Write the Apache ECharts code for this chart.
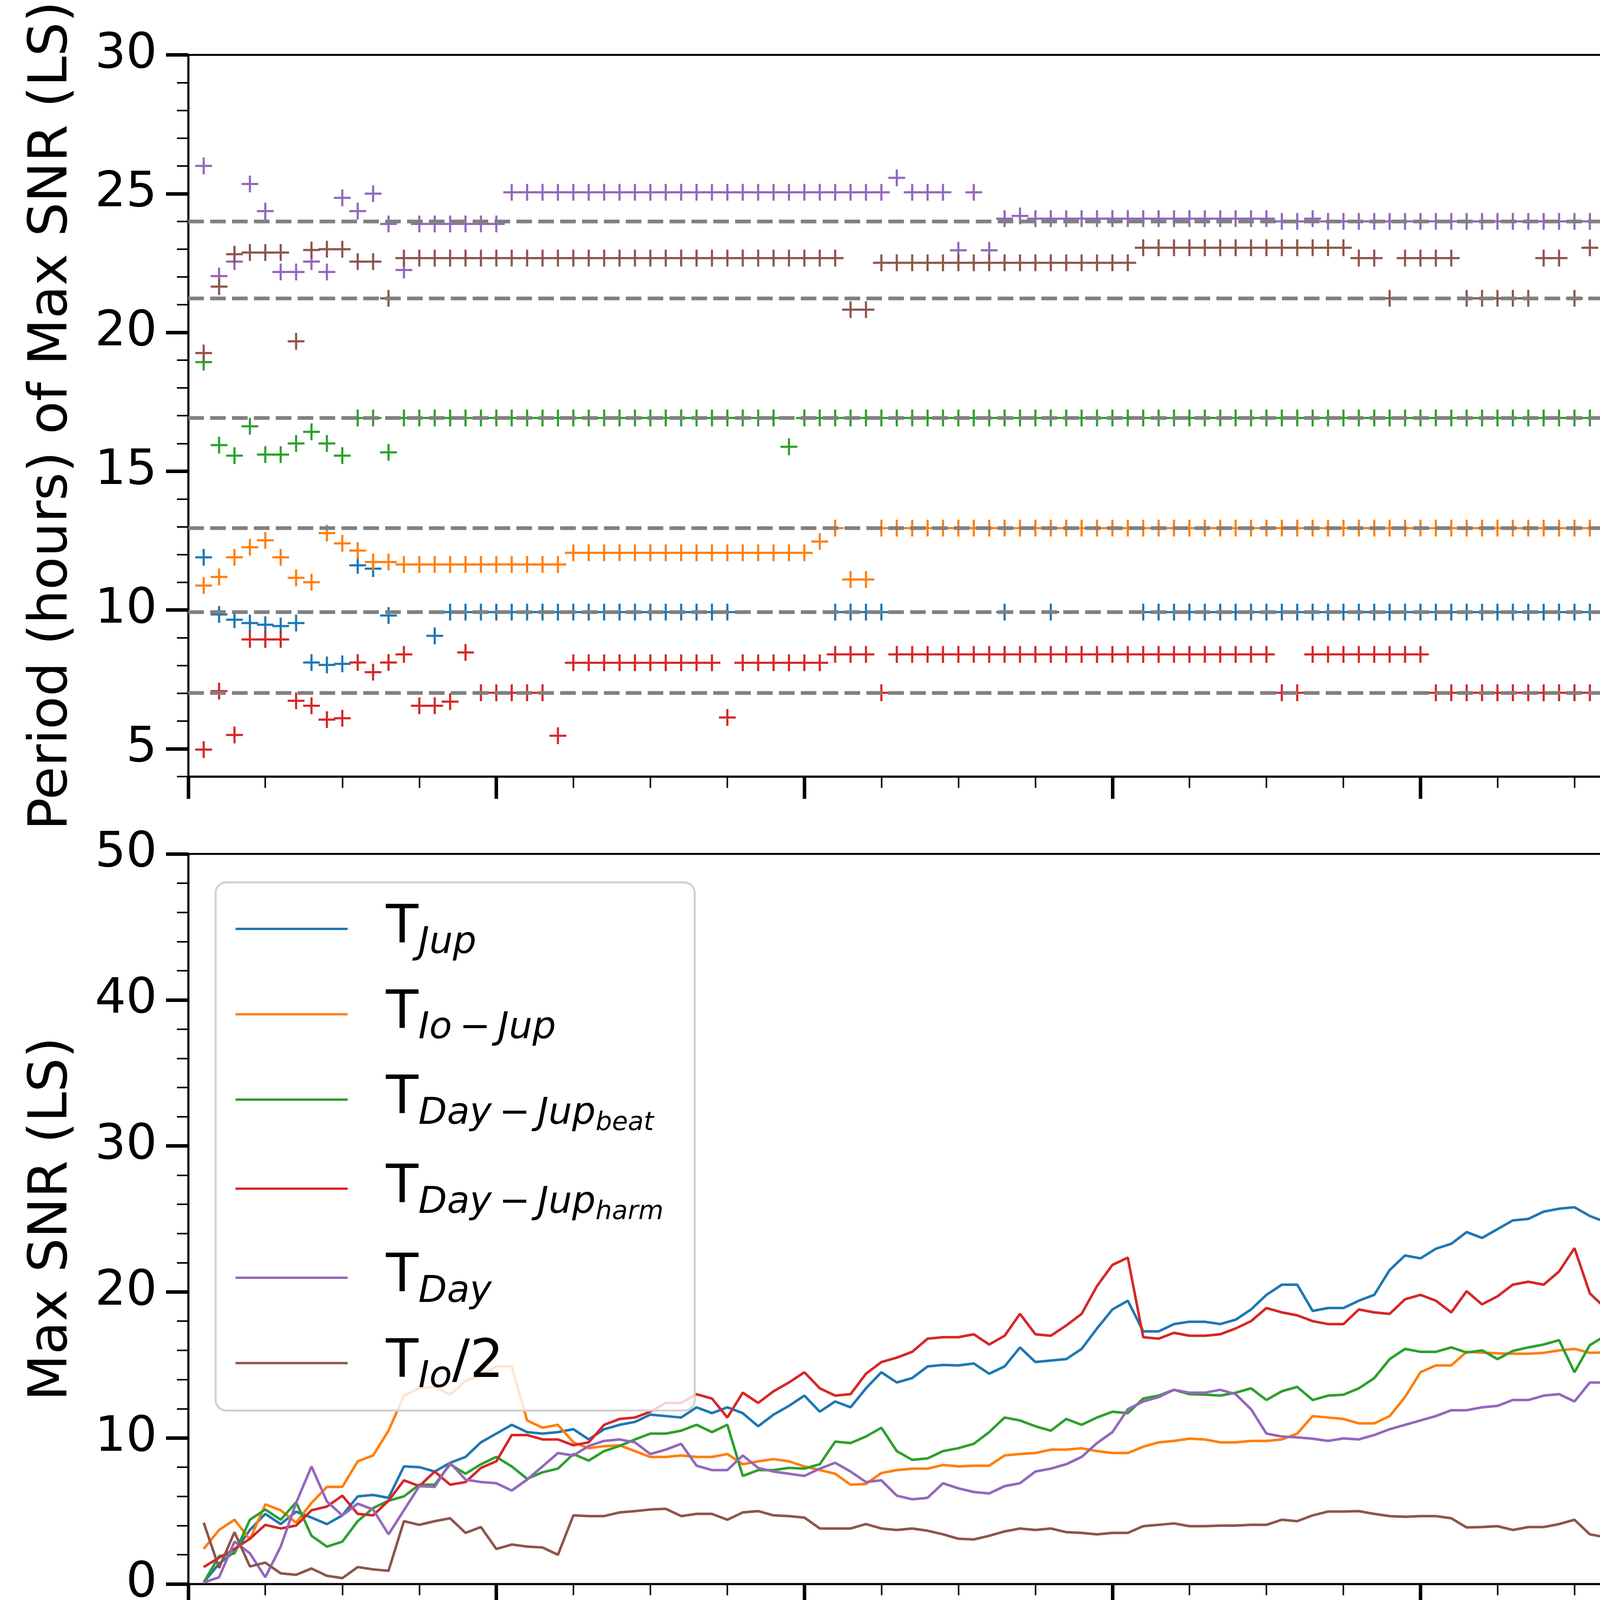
<!DOCTYPE html>
<html><head><meta charset="utf-8">
<script src="https://cdn.jsdelivr.net/npm/echarts@6/dist/echarts.min.js"></script>
<style>html,body{margin:0;padding:0;background:#fff}#c{width:7500px;height:4500px}</style>
</head><body><div id="c"></div>
<script>
// Reference periods (hours) – dashed lines
const TD = 24.0, TI = 21.23, TB = 16.92, TIJ = 12.95, TJ = 9.925, TH = 7.02;
const refPeriods = [TD, TI, TB, TIJ, TJ, TH];

const xTickLabels = [0, 20, 40, 60, 80, 100, 120, 140, 160];
const periodTickLabels = [5, 10, 15, 20, 25, 30];

// ---- Top panel: period of max SNR (sample 1..170) ----
const pJup = [11.9, 9.84, 9.65, 9.53, 9.47, 9.42, 9.53, 8.11, 8.02, 8.06,
 11.61, 11.49, 9.8, null, null, 9.07, TJ, TJ, TJ, TJ,
 TJ, TJ, TJ, TJ, TJ, TJ, TJ, TJ, TJ, TJ,
 TJ, TJ, TJ, TJ, TJ, null, null, null, null, null,
 null, TJ, TJ, TJ, TJ, null, null, null, null, null,
 null, null, TJ, null, null, TJ, null, null, null, null,
 null, TJ, TJ, TJ, TJ, TJ, TJ, TJ, TJ, TJ,
 TJ, TJ, TJ, TJ, TJ, TJ, TJ, TJ, TJ, TJ,
 TJ, TJ, TJ, TJ, TJ, TJ, TJ, TJ, TJ, TJ,
 TJ, TJ, TJ, TJ, TJ, TJ, TJ, TJ, TJ, TJ,
 TJ, TJ, TJ, TJ, TJ, TJ, TJ, TJ, TJ, TJ,
 TJ, TJ, TJ, TJ, TJ, TJ, TJ, TJ, TJ, TJ,
 TJ, TJ, TJ, TJ, TJ, TJ, TJ, TJ, TJ, TJ,
 TJ, TJ, TJ, TJ, TJ, TJ, TJ, TJ, TJ, TJ,
 TJ, TJ, TJ, TJ, TJ, TJ, TJ, TJ, TJ, TJ,
 TJ, TJ, TJ, TJ, TJ, TJ, TJ, TJ, TJ, TJ,
 TJ, TJ, TJ, TJ, TJ, TJ, TJ, TJ, TJ, TJ];

const pIoJup = [10.88, 11.19, 11.9, 12.26, 12.51, 11.9, 11.16, 11.0, 12.77, 12.4,
 12.14, 11.73, 11.73, 11.64, 11.64, 11.64, 11.64, 11.64, 11.64, 11.64,
 11.64, 11.64, 11.64, 11.64, 12.06, 12.06, 12.06, 12.06, 12.06, 12.06,
 12.06, 12.06, 12.06, 12.06, 12.06, 12.06, 12.06, 12.06, 12.06, 12.06,
 12.47, TIJ, 11.1, 11.1, TIJ, TIJ, TIJ, TIJ, TIJ, TIJ,
 TIJ, TIJ, TIJ, TIJ, TIJ, TIJ, TIJ, TIJ, TIJ, TIJ,
 TIJ, TIJ, TIJ, TIJ, TIJ, TIJ, TIJ, TIJ, TIJ, TIJ,
 TIJ, TIJ, TIJ, TIJ, TIJ, TIJ, TIJ, TIJ, TIJ, TIJ,
 TIJ, TIJ, TIJ, TIJ, TIJ, TIJ, TIJ, TIJ, TIJ, TIJ,
 TIJ, TIJ, TIJ, TIJ, TIJ, TIJ, TIJ, TIJ, TIJ, TIJ,
 TIJ, TIJ, TIJ, TIJ, TIJ, TIJ, TIJ, TIJ, TIJ, TIJ,
 TIJ, TIJ, TIJ, TIJ, TIJ, TIJ, TIJ, TIJ, TIJ, TIJ,
 TIJ, TIJ, TIJ, TIJ, TIJ, TIJ, TIJ, TIJ, TIJ, TIJ,
 TIJ, TIJ, TIJ, TIJ, TIJ, TIJ, TIJ, TIJ, TIJ, TIJ,
 TIJ, TIJ, TIJ, TIJ, TIJ, TIJ, TIJ, TIJ, TIJ, TIJ,
 TIJ, TIJ, TIJ, TIJ, TIJ, TIJ, TIJ, TIJ, TIJ, TIJ,
 TIJ, TIJ, TIJ, TIJ, TIJ, TIJ, TIJ, TIJ, TIJ, TIJ];

const pBeat = [18.93, 15.94, 15.56, 16.62, 15.6, 15.6, 16.0, 16.42, 16.0, 15.56,
 TB, TB, 15.68, TB, TB, TB, TB, TB, TB, TB,
 TB, TB, TB, TB, TB, TB, TB, TB, TB, TB,
 TB, TB, TB, TB, TB, TB, TB, TB, 15.88, TB,
 TB, TB, TB, TB, TB, TB, TB, TB, TB, TB,
 TB, TB, TB, TB, TB, TB, TB, TB, TB, TB,
 TB, TB, TB, TB, TB, TB, TB, TB, TB, TB,
 TB, TB, TB, TB, TB, TB, TB, TB, TB, TB,
 TB, TB, TB, TB, TB, TB, TB, TB, TB, TB,
 TB, TB, TB, TB, TB, TB, TB, TB, TB, TB,
 TB, TB, TB, TB, TB, TB, TB, TB, TB, TB,
 TB, TB, TB, TB, TB, TB, TB, TB, TB, TB,
 TB, TB, TB, TB, TB, TB, TB, TB, TB, TB,
 TB, TB, TB, TB, TB, TB, TB, TB, TB, TB,
 TB, TB, TB, TB, TB, TB, TB, TB, TB, TB,
 TB, TB, TB, TB, TB, TB, TB, TB, TB, TB,
 TB, TB, TB, TB, TB, TB, TB, TB, TB, TB];

const pHarm = [4.97, 7.08, 5.5, 8.94, 8.94, 8.94, 6.73, 6.55, 6.05, 6.1,
 8.11, 7.76, 8.11, 8.4, 6.55, 6.55, 6.7, 8.47, TH, TH,
 TH, TH, TH, 5.47, 8.1, 8.1, 8.1, 8.1, 8.1, 8.1,
 8.1, 8.1, 8.1, 8.1, 6.13, 8.1, 8.1, 8.1, 8.1, 8.1,
 8.1, 8.4, 8.4, 8.4, TH, 8.4, 8.4, 8.4, 8.4, 8.4,
 8.4, 8.4, 8.4, 8.4, 8.4, 8.4, 8.4, 8.4, 8.4, 8.4,
 8.4, 8.4, 8.4, 8.4, 8.4, 8.4, 8.4, 8.4, 8.4, 8.4,
 TH, TH, 8.4, 8.4, 8.4, 8.4, 8.4, 8.4, 8.4, 8.4,
 TH, TH, TH, TH, TH, TH, TH, TH, TH, TH,
 TH, TH, TH, TH, TH, TH, TH, TH, TH, TH,
 TH, TH, TH, TH, TH, TH, TH, TH, TH, TH,
 TH, TH, TH, TH, TH, TH, TH, TH, TH, TH,
 TH, TH, TH, TH, TH, TH, TH, TH, 6.1, TH,
 TH, TH, TH, TH, TH, TH, TH, TH, TH, TH,
 TH, TH, TH, TH, TH, TH, TH, TH, TH, TH,
 TH, TH, TH, TH, TH, TH, TH, TH, TH, TH,
 TH, TH, TH, TH, TH, TH, TH, TH, TH, TH];

const pDay = [26.0, 22.03, 22.55, 25.35, 24.37, 22.18, 22.18, 22.55, 22.18, 24.85,
 24.37, 25.0, 23.91, 22.25, 23.91, 23.91, 23.91, 23.91, 23.91, 23.91,
 25.05, 25.05, 25.05, 25.05, 25.05, 25.05, 25.05, 25.05, 25.05, 25.05,
 25.05, 25.05, 25.05, 25.05, 25.05, 25.05, 25.05, 25.05, 25.05, 25.05,
 25.05, 25.05, 25.05, 25.05, 25.05, 25.57, 25.05, 25.05, 25.05, 22.96,
 25.05, 22.96, 24.1, 24.2, 24.1, 24.1, 24.1, 24.1, 24.1, 24.1,
 24.1, 24.1, 24.1, 24.1, 24.1, 24.1, 24.1, 24.1, 24.1, 24.1,
 TD, TD, 24.1, TD, TD, TD, TD, TD, TD, TD,
 TD, TD, TD, TD, TD, TD, TD, TD, TD, TD,
 TD, TD, TD, TD, TD, TD, TD, TD, TD, TD,
 TD, TD, TD, TD, TD, TD, TD, TD, TD, TD,
 TD, TD, TD, TD, TD, TD, TD, TD, TD, TD,
 24.62, 25.17, TD, TD, TD, 24.62, TD, TD, TD, TD,
 TD, TD, TD, TD, TD, TD, TD, TD, TD, TD,
 TD, TD, TD, TD, TD, TD, TD, TD, TD, TD,
 TD, TD, TD, TD, TD, TD, TD, TD, TD, TD,
 TD, TD, TD, TD, TD, TD, TD, TD, TD, TD];

const pIo2 = [19.26, 21.65, 22.82, 22.88, 22.88, 22.88, 19.68, 22.97, 23.0, 23.0,
 22.55, 22.55, TI, 22.68, 22.68, 22.68, 22.68, 22.68, 22.68, 22.68,
 22.68, 22.68, 22.68, 22.68, 22.68, 22.68, 22.68, 22.68, 22.68, 22.68,
 22.68, 22.68, 22.68, 22.68, 22.68, 22.68, 22.68, 22.68, 22.68, 22.68,
 22.68, 22.68, 20.82, 20.82, 22.51, 22.51, 22.51, 22.51, 22.51, 22.51,
 22.51, 22.51, 22.51, 22.51, 22.51, 22.51, 22.51, 22.51, 22.51, 22.51,
 22.51, 23.05, 23.05, 23.05, 23.05, 23.05, 23.05, 23.05, 23.05, 23.05,
 23.05, 23.05, 23.05, 23.05, 23.05, 22.68, 22.68, TI, 22.68, 22.68,
 22.68, 22.68, TI, TI, TI, TI, TI, 22.68, 22.68, TI,
 23.05, TI, TI, TI, TI, TI, TI, TI, TI, TI,
 TI, TI, 23.05, 23.05, 23.05, 23.05, 23.05, 23.05, 23.05, TI,
 TI, TI, TI, TI, TI, TI, TI, TI, TI, TI,
 TI, TI, TI, TI, TI, TI, TI, TI, TI, TI,
 TI, TI, TI, TI, TI, TI, TI, TI, TI, TI,
 TI, TI, TI, TI, TI, TI, TI, TI, TI, TI,
 TI, TI, TI, TI, TI, TI, TI, TI, TI, TI,
 TI, TI, TI, TI, TI, TI, TI, TI, TI, TI];

// ---- Bottom panel: Max SNR (sample 1..170) ----
const sJup = [0.1, 1.4, 2.2, 3.7, 4.8, 4.1, 4.95, 4.55, 4.1, 4.7,
 6.0, 6.1, 5.9, 8.05, 8.0, 7.7, 8.3, 8.7, 9.7, 10.3,
 10.9, 10.4, 10.3, 10.4, 10.6, 9.9, 10.6, 10.9, 11.1, 11.6,
 11.5, 11.4, 12.1, 11.7, 12.1, 11.7, 10.8, 11.6, 12.2, 12.9,
 11.8, 12.5, 12.1, 13.4, 14.5, 13.8, 14.1, 14.9, 15.0, 14.97,
 15.1, 14.4, 14.9, 16.2, 15.2, 15.3, 15.4, 16.1, 17.5, 18.8,
 19.4, 17.3, 17.3, 17.8, 17.96, 17.96, 17.8, 18.1, 18.8, 19.8,
 20.5, 20.5, 18.7, 18.9, 18.9, 19.4, 19.8, 21.5, 22.5, 22.3,
 22.96, 23.3, 24.1, 23.7, 24.3, 24.9, 25.0, 25.5, 25.7, 25.8,
 25.2, 24.8, 26.08, 26.2, 26.08, 27.2, 28.0, 28.7, 28.9, 29.4,
 28.7, 29.6, 28.3, 28.8, 27.7, 27.5, 28.7, 28.7, 28.3, 28.9,
 28.9, 28.9, 28.8, 28.7, 28.7, 29.9, 29.7, 30.5, 29.0, 30.6,
 30.3, 30.2, 32.1, 31.7, 32.4, 32.9, 33.0, 33.0, 30.3, 32.2,
 33.7, 34.6, 34.6, 34.7, 34.7, 34.9, 34.7, 34.5, 34.5, 35.5,
 33.7, 33.6, 35.1, 35.8, 35.9, 36.8, 36.4, 37.5, 38.0, 39.5,
 40.9, 40.8, 40.8, 40.4, 40.9, 40.95, 41.25, 41.4, 41.6, 42.0,
 41.9, 41.9, 42.1, 42.2, 43.4, 44.0, 45.6, 46.9, 48.1, 47.3];

const sIoJup = [2.4, 3.7, 4.4, 3.05, 5.45, 5.05, 4.2, 5.55, 6.65, 6.65,
 8.4, 8.8, 10.5, 12.9, 13.4, 13.5, 12.97, 13.9, 14.3, 14.9,
 14.9, 11.2, 10.7, 10.9, 9.7, 9.3, 9.44, 9.5, 9.1, 8.7,
 8.7, 8.8, 8.7, 8.7, 8.9, 8.2, 8.4, 8.55, 8.4, 8.05,
 7.8, 7.55, 6.8, 6.85, 7.6, 7.8, 7.9, 7.9, 8.15, 8.05,
 8.1, 8.1, 8.8, 8.9, 8.97, 9.2, 9.2, 9.3, 9.1, 8.97,
 8.97, 9.4, 9.7, 9.8, 9.95, 9.9, 9.7, 9.7, 9.8, 9.8,
 9.9, 10.3, 11.5, 11.4, 11.3, 11.0, 11.0, 11.5, 12.8, 14.5,
 14.97, 14.97, 15.9, 15.85, 15.8, 15.77, 15.77, 15.83, 16.0, 16.1,
 15.83, 15.86, 16.5, 16.5, 16.46, 17.6, 18.4, 18.7, 18.9, 19.1,
 19.0, 19.7, 20.9, 20.7, 20.75, 20.75, 20.7, 20.5, 22.0, 23.4,
 23.25, 23.25, 23.35, 21.9, 22.0, 22.0, 22.1, 22.25, 22.2, 22.4,
 22.45, 22.6, 23.85, 24.45, 24.2, 23.9, 24.3, 24.3, 25.2, 25.6,
 26.1, 26.2, 26.2, 26.3, 26.4, 26.5, 28.1, 27.8, 28.0, 27.97,
 28.07, 28.3, 28.5, 28.7, 28.9, 28.7, 28.7, 28.8, 28.4, 28.5,
 28.6, 28.7, 28.3, 28.2, 28.1, 28.3, 28.2, 27.7, 27.7, 27.97,
 28.1, 28.4, 28.5, 28.3, 28.5, 28.6, 28.5, 30.0, 30.3, 30.5];

const sBeat = [0.1, 1.9, 2.1, 4.4, 5.1, 4.4, 5.6, 3.3, 2.56, 2.9,
 4.3, 5.2, 5.7, 6.0, 6.8, 6.8, 8.2, 7.55, 8.2, 8.7,
 8.05, 7.2, 7.65, 7.9, 8.9, 8.45, 9.1, 9.45, 9.9, 10.3,
 10.3, 10.5, 10.9, 10.4, 10.9, 7.4, 7.8, 7.8, 7.95, 7.9,
 8.2, 9.75, 9.65, 10.1, 10.7, 9.1, 8.5, 8.6, 9.1, 9.3,
 9.6, 10.4, 11.4, 11.2, 10.8, 10.5, 11.3, 10.9, 11.4, 11.8,
 11.7, 12.7, 12.9, 13.3, 13.0, 12.97, 12.9, 13.1, 13.4, 12.6,
 13.2, 13.5, 12.6, 12.9, 12.96, 13.4, 14.1, 15.4, 16.1, 15.9,
 15.9, 16.2, 15.85, 16.0, 15.4, 15.96, 16.2, 16.4, 16.7, 14.5,
 16.36, 17.0, 19.3, 19.6, 19.8, 20.1, 20.5, 21.8, 22.25, 22.3,
 22.1, 21.4, 20.5, 20.9, 19.8, 20.1, 21.1, 20.9, 20.5, 20.7,
 21.0, 21.0, 21.0, 20.6, 20.7, 20.9, 20.6, 20.9, 20.9, 20.7,
 22.95, 23.2, 24.85, 23.75, 24.25, 24.1, 21.0, 20.95, 18.96, 18.8,
 19.8, 20.2, 20.2, 20.1, 20.1, 20.4, 19.96, 20.06, 19.96, 20.36,
 18.7, 18.76, 20.3, 20.6, 20.5, 21.0, 21.5, 21.9, 21.7, 22.9,
 23.75, 23.85, 24.15, 24.35, 24.3, 24.45, 24.4, 24.15, 24.15, 23.9,
 24.0, 24.05, 24.05, 24.45, 25.0, 25.4, 26.8, 25.0, 26.0, 25.2];

const sHarm = [1.16, 1.8, 2.4, 3.1, 4.05, 3.8, 4.0, 5.05, 5.3, 6.05,
 4.8, 4.7, 5.7, 7.1, 6.7, 7.7, 6.8, 6.98, 7.95, 8.4,
 10.2, 10.2, 9.9, 9.9, 9.5, 9.7, 10.9, 11.3, 11.4, 11.8,
 12.4, 12.4, 13.0, 12.7, 11.4, 13.1, 12.4, 13.2, 13.8, 14.5,
 13.4, 12.9, 13.0, 14.4, 15.2, 15.5, 15.9, 16.8, 16.9, 16.9,
 17.1, 16.4, 17.0, 18.5, 17.1, 17.0, 17.7, 18.5, 20.4, 21.85,
 22.35, 16.9, 16.8, 17.2, 17.0, 17.0, 17.1, 17.5, 18.0, 18.9,
 18.6, 18.4, 18.0, 17.8, 17.8, 18.8, 18.6, 18.5, 19.5, 19.8,
 19.4, 18.6, 20.05, 19.15, 19.7, 20.5, 20.7, 20.5, 21.4, 23.0,
 19.9, 18.9, 17.8, 17.7, 17.8, 18.5, 19.2, 19.1, 19.1, 19.6,
 18.7, 18.5, 18.8, 18.7, 17.96, 17.9, 19.0, 19.1, 19.2, 19.8,
 19.8, 19.8, 19.8, 19.8, 19.8, 20.0, 20.3, 21.1, 18.9, 20.0,
 18.4, 18.1, 19.4, 19.4, 19.45, 19.9, 21.0, 20.9, 19.5, 19.1,
 20.2, 20.95, 20.95, 20.99, 20.95, 20.8, 20.7, 20.9, 20.8, 21.5,
 19.4, 19.5, 20.6, 21.1, 21.3, 22.3, 21.95, 22.0, 21.9, 22.9,
 24.2, 24.3, 23.9, 24.1, 24.7, 24.6, 24.6, 24.5, 24.7, 24.8,
 24.45, 24.3, 24.75, 24.7, 25.6, 25.4, 26.0, 25.7, 26.8, 27.2];

const sDay = [0.1, 0.46, 2.9, 2.1, 0.46, 2.56, 5.55, 8.05, 5.65, 4.7,
 5.5, 5.1, 3.4, 5.05, 6.7, 6.65, 8.3, 7.15, 6.98, 6.9,
 6.4, 7.15, 8.05, 8.97, 8.8, 9.45, 9.8, 9.9, 9.7, 8.9,
 9.2, 9.6, 8.1, 7.8, 7.8, 8.8, 7.95, 7.7, 7.55, 7.4,
 7.9, 8.3, 7.7, 6.98, 7.1, 6.05, 5.8, 5.9, 6.9, 6.55,
 6.3, 6.2, 6.7, 6.9, 7.7, 7.9, 8.2, 8.7, 9.65, 10.4,
 11.97, 12.5, 12.8, 13.3, 13.1, 13.1, 13.3, 13.0, 11.97, 10.3,
 10.1, 10.04, 9.95, 9.8, 9.97, 9.9, 10.2, 10.6, 10.9, 11.2,
 11.5, 11.9, 11.9, 12.1, 12.2, 12.6, 12.6, 12.9, 13.0, 12.5,
 13.8, 13.8, 15.2, 16.0, 16.4, 16.5, 17.9, 17.9, 18.0, 18.5,
 16.9, 16.7, 17.2, 16.96, 16.8, 17.1, 17.5, 17.76, 18.2, 18.1,
 18.0, 18.0, 18.0, 17.7, 17.2, 16.6, 15.9, 15.3, 14.9, 14.5,
 14.5, 14.5, 14.9, 14.4, 14.1, 14.2, 14.3, 14.2, 14.6, 15.8,
 15.9, 16.1, 16.1, 16.5, 16.5, 16.5, 16.5, 16.5, 16.4, 16.5,
 16.96, 17.5, 17.6, 17.7, 17.9, 17.8, 18.0, 18.2, 18.5, 18.6,
 19.1, 19.6, 19.7, 19.9, 19.8, 19.9, 20.0, 20.2, 19.96, 20.1,
 20.5, 20.6, 19.1, 18.7, 18.5, 19.8, 19.9, 20.0, 21.5, 22.3];

const sIo2 = [4.2, 1.1, 3.55, 1.2, 1.46, 0.73, 0.63, 1.06, 0.56, 0.4,
 1.16, 1.0, 0.9, 4.3, 4.05, 4.3, 4.5, 3.5, 3.9, 2.4,
 2.7, 2.56, 2.5, 2.0, 4.7, 4.65, 4.65, 4.9, 4.99, 5.1,
 5.15, 4.65, 4.8, 4.8, 4.4, 4.9, 4.99, 4.7, 4.65, 4.55,
 3.8, 3.8, 3.8, 4.1, 3.8, 3.7, 3.8, 3.65, 3.4, 3.1,
 3.05, 3.3, 3.6, 3.8, 3.7, 3.8, 3.55, 3.5, 3.4, 3.5,
 3.5, 3.96, 4.05, 4.15, 3.96, 3.96, 4.0, 4.0, 4.05, 4.05,
 4.4, 4.3, 4.7, 4.96, 4.96, 4.99, 4.8, 4.65, 4.6, 4.65,
 4.65, 4.5, 3.87, 3.9, 3.96, 3.7, 3.9, 3.9, 4.1, 4.4,
 3.4, 3.2, 3.05, 2.9, 3.05, 3.4, 3.3, 3.3, 3.55, 3.7,
 3.9, 3.7, 4.8, 4.6, 4.65, 4.65, 4.7, 4.7, 3.7, 3.65,
 3.5, 3.5, 3.45, 3.9, 4.2, 4.3, 4.4, 4.2, 4.0, 4.1,
 3.8, 3.65, 4.0, 3.4, 3.4, 3.35, 3.4, 3.3, 4.2, 4.3,
 4.2, 4.4, 4.4, 4.2, 4.2, 4.3, 4.8, 4.8, 4.75, 4.75,
 5.7, 5.5, 5.55, 5.6, 5.4, 5.5, 5.5, 5.6, 5.7, 5.55,
 5.55, 5.65, 5.65, 5.55, 5.55, 5.5, 5.55, 5.7, 5.7, 5.85,
 5.95, 5.95, 5.85, 5.85, 5.9, 6.0, 5.85, 5.2, 5.2, 5.25];

const seriesNames = ['T_Jup', 'T_Io-Jup', 'T_Day-Jup_beat', 'T_Day-Jup_harm', 'T_Day', 'T_Io/2'];
const SP = '\u2009';
const legendLabels = {
  'T_Jup': '{gap| }{t|T}{s|Jup}',
  'T_Io-Jup': '{gap| }{t|T}{s|Io' + SP + '−' + SP + 'Jup}',
  'T_Day-Jup_beat': '{gap| }{t|T}{s|Day' + SP + '−' + SP + 'Jup}{ss|beat}',
  'T_Day-Jup_harm': '{gap| }{t|T}{s|Day' + SP + '−' + SP + 'Jup}{ss|harm}',
  'T_Day': '{gap| }{t|T}{s|Day}',
  'T_Io/2': '{gap| }{t|T}{s|Io}{t|/2}'
};
const colors = ['#1f77b4', '#ff7f0e', '#2ca02c', '#d62728', '#9467bd', '#8c564b'];
const periodSeries = [pJup, pIoJup, pBeat, pHarm, pDay, pIo2];
const snrSeries = [sJup, sIoJup, sBeat, sHarm, sDay, sIo2];

const FONT = 'DejaVu Sans';
function pairs(arr) { return arr.map((v, i) => [i + 1, v]).filter(d => d[1] !== null); }

const majorTick = { show: true, length: 57, lineStyle: { color: '#000', width: 9 } };
const minorTick = { show: true, length: 29, lineStyle: { color: '#000', width: 4 } };
const lbl = { show: true, color: '#000', fontFamily: FONT, fontSize: 125 };
const axLine = { show: true, onZero: false, lineStyle: { color: '#000', width: 5 } };
const noLine = { show: false, onZero: false };

function makeX(gridIndex, labels) {
  return [
    { type: 'value', gridIndex, position: 'bottom', min: 0, max: 170, interval: 20,
      axisLine: axLine, axisTick: Object.assign({}, majorTick, { customValues: xTickLabels }),
      axisLabel: labels ? Object.assign({}, lbl, { margin: 65, customValues: xTickLabels }) : { show: false },
      splitLine: { show: false },
      name: labels ? 'Number of sample in LS' : '', nameLocation: 'middle', nameGap: 237,
      nameTextStyle: { color: '#000', fontFamily: FONT, fontSize: 138 } },
    { type: 'value', gridIndex, position: 'bottom', min: 0, max: 170, interval: 5,
      axisLine: noLine, axisTick: minorTick, axisLabel: { show: false }, splitLine: { show: false } }
  ];
}
function makeY(gridIndex, pos, min, max, majorInt, minorInt, name, custom) {
  const major = { type: 'value', gridIndex, position: pos, min, max,
    axisLine: axLine, splitLine: { show: false },
    axisTick: Object.assign({}, majorTick),
    axisLabel: Object.assign({}, lbl, { margin: 80 }) };
  if (custom) { major.axisTick.customValues = custom; major.axisLabel.customValues = custom; }
  else { major.interval = majorInt; }
  if (name) {
    major.name = name; major.nameLocation = 'middle'; major.nameGap = 279;
    major.nameTextStyle = { color: '#000', fontFamily: FONT, fontSize: 138 };
  }
  const minor = { type: 'value', gridIndex, position: pos, min, max, interval: minorInt,
    axisLine: noLine, axisTick: minorTick, axisLabel: { show: false }, splitLine: { show: false } };
  return [major, minor];
}

const plusPath = 'path://M-2.75,-21.5L2.75,-21.5L2.75,-2.75L21.5,-2.75L21.5,2.75L2.75,2.75L2.75,21.5L-2.75,21.5L-2.75,2.75L-21.5,2.75L-21.5,-2.75L-2.75,-2.75Z';

const series = [];
periodSeries.forEach((arr, k) => {
  const s = { type: 'scatter', name: 'p' + k, xAxisIndex: 0, yAxisIndex: 0, data: pairs(arr),
    symbol: plusPath, symbolSize: 43, itemStyle: { color: colors[k], opacity: 1 }, z: 2, silent: true };
  if (k === periodSeries.length - 1) {
    s.markLine = { silent: true, symbol: ['none', 'none'], label: { show: false }, animation: false,
      lineStyle: { color: '#808080', width: 9.5, type: [40, 16], opacity: 1 },
      emphasis: { disabled: true },
      data: refPeriods.map(v => ({ yAxis: v })) };
  }
  series.push(s);
});
snrSeries.forEach((arr, k) => {
  series.push({ type: 'line', name: seriesNames[k], xAxisIndex: 2, yAxisIndex: 4, data: pairs(arr),
    showSymbol: false, symbol: 'none', lineStyle: { width: 6.5, color: colors[k] },
    itemStyle: { color: colors[k] }, z: 2, silent: true });
});

const option = {
  animation: false,
  backgroundColor: '#fff',
  textStyle: { fontFamily: FONT },
  grid: [
    { left: 482, right: 315, top: 123, height: 1865, show: true, borderColor: '#000', borderWidth: 5, backgroundColor: 'transparent' },
    { left: 482, right: 315, top: 2186, height: 1869, show: true, borderColor: '#000', borderWidth: 5, backgroundColor: 'transparent' }
  ],
  xAxis: [].concat(makeX(0, false), makeX(1, true)),
  yAxis: [].concat(
    makeY(0, 'left', 4, 30, 5, 1, 'Period (hours) of Max SNR (LS)', periodTickLabels),
    makeY(0, 'right', 0, 50, 10, 2, null, null),
    makeY(1, 'left', 0, 50, 10, 2, 'Max SNR (LS)', null),
    makeY(1, 'right', 0, 50, 10, 2, null, null)
  ),
  legend: {
    data: seriesNames, orient: 'vertical', left: 552, top: 2259,
    icon: 'rect', itemWidth: 287, itemHeight: 6, itemGap: 66,
    padding: [51, 80, 37, 51],
    backgroundColor: 'rgba(255,255,255,0.8)', borderColor: '#d0d0d0', borderWidth: 5, borderRadius: 27,
    selectedMode: false,
    formatter: name => legendLabels[name],
    textStyle: { color: '#000', fontFamily: FONT,
      rich: {
        gap: { width: 93, fontSize: 20 },
        t: { fontSize: 136, fontFamily: FONT, color: '#000', lineHeight: 200, verticalAlign: 'middle' },
        s: { fontSize: 95, fontFamily: FONT, fontStyle: 'italic', color: '#000', height: 126, verticalAlign: 'bottom' },
        ss: { fontSize: 66, fontFamily: FONT, fontStyle: 'italic', color: '#000', height: 78, verticalAlign: 'bottom' }
      } }
  },
  series
};
const chart = echarts.init(document.getElementById('c'), null, { renderer: 'canvas' });
chart.setOption(option);
</script></body></html>
